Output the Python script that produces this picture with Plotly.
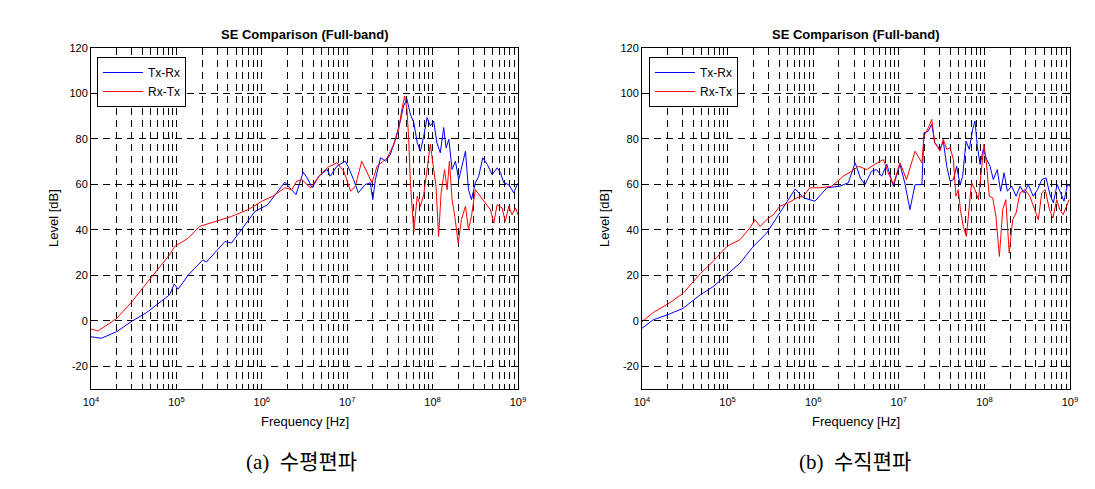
import plotly.graph_objects as go

# ---- data (x = log10 of frequency in Hz, y = level in dB) ----
a_tx_logf = [4.00, 4.12, 4.30, 4.47, 4.65, 4.79, 4.92, 4.975, 5.02, 5.14, 5.31, 5.35, 5.45, 5.57, 5.645,
             5.76, 5.92, 6.07, 6.19, 6.27, 6.40, 6.485, 6.53, 6.59, 6.667, 6.765, 6.80, 6.88, 6.978, 7.017,
             7.075, 7.13, 7.21, 7.27, 7.30, 7.33, 7.39, 7.45, 7.505,
             7.564, 7.622, 7.66, 7.70, 7.74, 7.78, 7.82, 7.857, 7.896, 7.935, 7.974, 8.013, 8.05, 8.09,
             8.13, 8.158, 8.19, 8.228, 8.267, 8.306, 8.346, 8.385, 8.42, 8.455, 8.50, 8.54, 8.587, 8.64,
             8.697, 8.756, 8.795, 8.834, 8.892, 8.95, 8.99, 9.0]
a_tx_db = [-7, -7.7, -4.8, -0.4, 3.6, 7.7, 11.4, 16.2, 13.9, 20.2, 26.8, 25.8, 29.8, 34.9, 34.2,
           40, 48.1, 51.1, 57, 61, 55.5, 65.4, 62.9, 58.5, 63.6, 66.6, 63.6, 68, 70.2, 67.3,
           62.1, 56.3, 59.9, 60.7, 53.3, 62.1, 71.7, 70.2, 73.2,
           79.8, 87.9, 94.5, 97.4, 90.8, 87.2, 78.3, 74.6, 81.2, 89.4, 85.7, 87.9, 78.3, 73.9,
           85, 76.1, 79.8, 66.6, 70.2, 62.1, 68, 74.6, 57.7, 53.3, 60.7, 63.6, 71.7, 68.8,
           64.3, 67.3, 65.1, 60.7, 59.9, 56.3, 59.9, 60.5]

a_rx_logf = [4.00, 4.08, 4.30, 4.47, 4.65, 4.82, 4.92, 4.98, 5.14, 5.27, 5.45, 5.645, 5.84, 6.0, 6.13,
             6.27, 6.35, 6.41, 6.47, 6.57, 6.685, 6.78, 6.88, 6.96, 7.04, 7.095, 7.17, 7.23, 7.29, 7.35,
             7.47, 7.545,
             7.564, 7.603, 7.64, 7.673, 7.70, 7.72, 7.74, 7.76, 7.78, 7.82, 7.857, 7.896, 7.935, 7.974,
             8.013, 8.04, 8.07, 8.10, 8.14, 8.17, 8.197, 8.228, 8.26, 8.30, 8.337, 8.385, 8.42, 8.455,
             8.50, 8.56, 8.62, 8.677, 8.716, 8.756, 8.815, 8.85, 8.892, 8.93, 8.97, 9.0]
a_rx_db = [-3.6, -4.5, 1, 8, 16.5, 24.6, 29, 32.7, 36.4, 41.5, 43.7, 45.9, 48.9, 52.6, 54.8,
           58.5, 57.7, 61.4, 62.1, 58.5, 64.3, 67.7, 69.5, 65.8, 57, 59.2, 70.2, 65.8, 60.7, 68,
           71.7, 77.6,
           79.8, 84.2, 93, 98.9, 93, 79.8, 60.7, 48.9, 39.3, 54.8, 50.4, 55.5, 66.5, 77.6,
           66.5, 59.2, 37.1, 56.3, 66.5, 57.7, 70.2, 53.3, 45.9, 34.2, 44.5, 50.4, 40.1, 45.9,
           57.7, 54.8, 51.9, 48.9, 43, 51.1, 49.6, 43.7, 50.4, 46.7, 49.6, 46.7]

b_tx_logf = [4.0, 4.13, 4.315, 4.48, 4.68, 4.83, 4.99, 5.145, 5.30, 5.457, 5.57, 5.69, 5.79, 5.885, 6.02,
             6.16, 6.31, 6.41, 6.49, 6.55, 6.605, 6.68, 6.74, 6.80, 6.86, 6.936, 7.014, 7.07, 7.13, 7.19,
             7.27, 7.294, 7.345, 7.385, 7.42,
             7.48, 7.52, 7.56, 7.60, 7.637, 7.676, 7.715, 7.746, 7.785, 7.824, 7.863, 7.89, 7.917, 7.95,
             7.987, 8.027, 8.066, 8.104, 8.15, 8.19, 8.23, 8.268, 8.32, 8.37, 8.416, 8.463, 8.513, 8.57,
             8.62, 8.67, 8.72, 8.766, 8.805, 8.85, 8.89, 8.93, 8.97, 9.0]
b_tx_db = [-3.3, 0.4, 2.9, 5.5, 11.4, 15, 20.2, 25.4, 32.7, 38.6, 45.2, 51.9, 58, 54.1, 52.6,
           58.5, 59.2, 60.7, 69.5, 62.9, 59.9, 65.8, 66.5, 63.6, 68.8, 59.2, 68.8, 60.7, 48.9, 59.9,
           59.9, 82.7, 83.5, 86.4, 78.3,
           75.4, 79, 68, 61.4, 62.1, 68, 59.9, 63.6, 79, 75.4, 84.2, 87.9, 76.8, 68.8,
           75.4, 71, 68, 62.1, 66.5, 57, 65.1, 57, 59.2, 54.8, 59.2, 56.3, 59.9, 54.8,
           57.7, 62.1, 62.9, 55.5, 51.9, 59.9, 56.3, 52.6, 59.9, 59.2]

b_rx_logf = [4.0, 4.13, 4.315, 4.48, 4.68, 4.83, 4.99, 5.145, 5.26, 5.32, 5.38, 5.457, 5.535, 5.61, 5.71,
             5.81, 5.885, 5.96, 6.08, 6.216, 6.35, 6.45, 6.53, 6.625, 6.72, 6.82, 6.877, 6.936, 7.014, 7.09,
             7.19, 7.27, 7.294, 7.345, 7.385, 7.42, 7.46,
             7.48, 7.52, 7.56, 7.60, 7.637, 7.668, 7.695, 7.72, 7.753, 7.79, 7.824, 7.85, 7.89, 7.93,
             7.97, 7.995, 8.027, 8.057, 8.097, 8.135, 8.175, 8.214, 8.25, 8.29, 8.33, 8.37, 8.416, 8.475,
             8.53, 8.57, 8.63, 8.67, 8.71, 8.76, 8.80, 8.845, 8.88, 8.92, 8.96, 8.99]
b_rx_db = [-0.4, 3.6, 7.7, 12.1, 20.7, 26.1, 32.7, 35.7, 40.8, 44.5, 41.5, 44.5, 46.7, 50.4, 51.9,
           54.1, 54.8, 58.5, 58.5, 59.2, 63.6, 65.8, 68, 66.5, 68.8, 70.9, 65.1, 59.9, 69.5, 62.1,
           74.6, 69.5, 81.2, 84.9, 88.6, 78.3, 76.1,
           74.6, 79.8, 75.4, 76.1, 71, 54.8, 57.7, 48.9, 41.5, 37.1, 48.9, 60.7, 57.7, 53.3,
           68, 77.6, 68, 54.8, 54.1, 45.9, 28.3, 48.9, 53.3, 29.8, 44.5, 47.4, 56.3, 57.7,
           54.8, 50.4, 44.5, 56.3, 57.7, 48.9, 45.2, 53.3, 48.9, 46.7, 50.4, 53.3]

series_names = ["Tx-Rx", "Rx-Tx"]
plot_title = "SE Comparison (Full-band)"
x_label = "Frequency [Hz]"
y_label = "Level [dB]"
captions = ["(a)  수평편파", "(b)  수직편파"]
y_ticks = [-20, 0, 20, 40, 60, 80, 100, 120]
y_tick_text = ["-20", "0", "20", "40", "60", "80", "100", "120"]
decades = [4, 5, 6, 7, 8, 9]

# ---- figure ----
W, H = 1095, 489
def px(x):
    return x / W
def py(y):
    return 1 - y / H

blue, red = "#0000FF", "#FF0000"
fig = go.Figure()

def hz(lst):
    return [10 ** v for v in lst]

fig.add_trace(go.Scatter(x=hz(a_tx_logf), y=a_tx_db, mode="lines", name=series_names[0],
                         line=dict(color=blue, width=1), xaxis="x", yaxis="y", legend="legend"))
fig.add_trace(go.Scatter(x=hz(a_rx_logf), y=a_rx_db, mode="lines", name=series_names[1],
                         line=dict(color=red, width=1), xaxis="x", yaxis="y", legend="legend"))
fig.add_trace(go.Scatter(x=hz(b_tx_logf), y=b_tx_db, mode="lines", name=series_names[0],
                         line=dict(color=blue, width=1), xaxis="x2", yaxis="y2", legend="legend2"))
fig.add_trace(go.Scatter(x=hz(b_rx_logf), y=b_rx_db, mode="lines", name=series_names[1],
                         line=dict(color=red, width=1), xaxis="x2", yaxis="y2", legend="legend2"))

xtickvals, xticktext = [], []
for d in decades:
    xtickvals.append(10 ** d)
    xticktext.append("10<sup>%d</sup>" % d)
    if d < decades[-1]:
        for m in range(2, 10):
            xtickvals.append(m * 10 ** d)
            xticktext.append("")

sans = "Arial, Liberation Sans, sans-serif"
tickfont = dict(family=sans, size=11, color="black")
labelfont = dict(family=sans, size=13, color="black")
gd = "7px,5px"
common_x = dict(type="log", range=[4, 9], tickmode="array", tickvals=xtickvals, ticktext=xticktext,
                showgrid=True, gridcolor="black", gridwidth=1, griddash=gd, automargin=False,
                showline=True, linecolor="black", linewidth=1, mirror="ticks", ticklabelstandoff=3,
                ticks="inside", ticklen=4, tickcolor="black", tickfont=tickfont, zeroline=False)
common_y = dict(range=[-30, 120], tickmode="array", tickvals=y_ticks, ticktext=y_tick_text, automargin=False,
                showgrid=True, gridcolor="black", gridwidth=1, griddash=gd,
                showline=True, linecolor="black", linewidth=1, mirror="ticks",
                ticks="inside", ticklen=4, tickcolor="black", tickfont=tickfont, zeroline=False)

ydom = [py(389), py(48)]
legend_common = dict(xanchor="left", yanchor="top", bgcolor="white", bordercolor="black", borderwidth=1,
                     font=dict(family=sans, size=12, color="black"), itemwidth=40, tracegroupgap=0)
fig.update_layout(
    width=W, height=H, margin=dict(l=0, r=0, t=0, b=0, pad=0),
    paper_bgcolor="white", plot_bgcolor="white", showlegend=True,
    xaxis=dict(domain=[px(91), px(518)], anchor="y", **common_x),
    yaxis=dict(domain=ydom, anchor="x", **common_y),
    xaxis2=dict(domain=[px(642), px(1070)], anchor="y2", **common_x),
    yaxis2=dict(domain=ydom, anchor="x2", **common_y),
    legend=dict(x=px(97), y=py(57), **legend_common),
    legend2=dict(x=px(649), y=py(57), **legend_common),
)

ann = []
for cx, lx, capx, cap in [((91 + 518) / 2, 53, 301, captions[0]), ((642 + 1070) / 2, 604, 855, captions[1])]:
    ann.append(dict(x=px(cx), y=py(35), xref="paper", yref="paper", text="<b>%s</b>" % plot_title,
                    xanchor="center", yanchor="middle", showarrow=False, font=labelfont))
    ann.append(dict(x=px(lx), y=py(218), xref="paper", yref="paper", text=y_label, textangle=-90,
                    xanchor="center", yanchor="middle", showarrow=False, font=labelfont))
    ann.append(dict(x=px(cx), y=py(421), xref="paper", yref="paper", text=x_label,
                    xanchor="center", yanchor="middle", showarrow=False, font=labelfont))
    ann.append(dict(x=px(capx), y=py(462), xref="paper", yref="paper", text=cap, showarrow=False,
                    xanchor="center", yanchor="middle",
                    font=dict(family="Liberation Serif, Noto Sans CJK KR, serif", size=21, color="black")))
fig.update_layout(annotations=ann)

fig.write_html("out.html")
